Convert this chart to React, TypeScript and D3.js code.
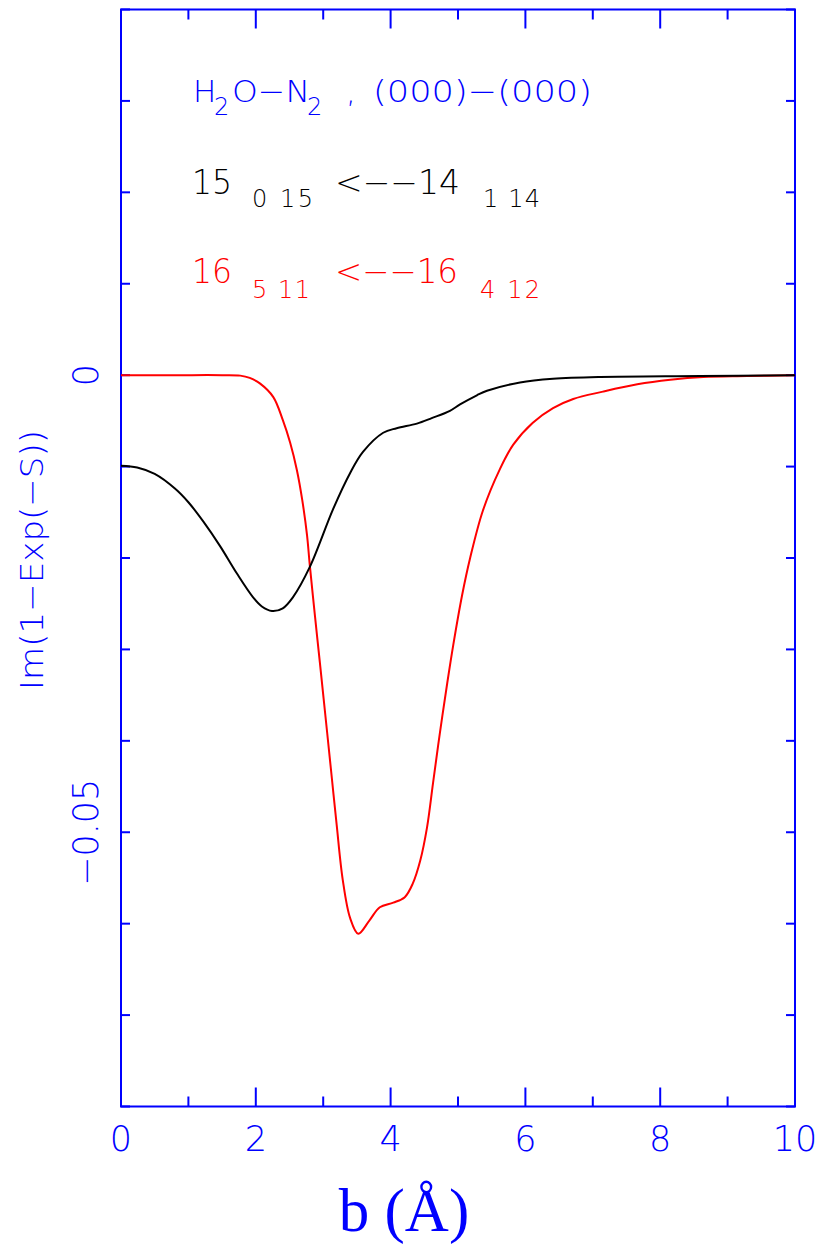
import React from "react";
import * as d3 from "d3";

// b (Å)
const blackB = [0, 0.24, 0.5, 0.8, 1.0, 1.22, 1.47, 1.72, 1.96, 2.09, 2.24, 2.4, 2.55, 2.8, 3.15, 3.4, 3.59, 3.89, 4.09, 4.39, 4.61, 4.88, 5.03, 5.28, 5.43, 5.92, 6.41, 7.11, 8.59, 10];
const blackV = [-0.0099, -0.0101, -0.0108, -0.0124, -0.0139, -0.016, -0.0187, -0.0217, -0.0243, -0.0253, -0.0258, -0.0255, -0.0243, -0.021, -0.0146, -0.0107, -0.0084, -0.0063, -0.0058, -0.0053, -0.0047, -0.0039, -0.0032, -0.0022, -0.0017, -0.0008, -0.0004, -0.0002, -0.0001, 0];

const redB = [0, 0.8, 1.5, 1.77, 1.91, 2.06, 2.26, 2.4, 2.51, 2.61, 2.69, 2.76, 2.8, 2.88, 2.95, 3.06, 3.13, 3.2, 3.29, 3.4, 3.52, 3.69, 3.84, 4.04, 4.21, 4.33, 4.44, 4.54, 4.63, 4.73, 4.84, 4.93, 5.06, 5.18, 5.37, 5.62, 5.82, 6.11, 6.41, 6.71, 7.15, 7.66, 8.15, 8.64, 9.29, 10];
const redV = [0, 0, 0, -0.00005, -0.0003, -0.0009, -0.0024, -0.0049, -0.0074, -0.0104, -0.0137, -0.0175, -0.0207, -0.0265, -0.0314, -0.0392, -0.0442, -0.0492, -0.0552, -0.0594, -0.0611, -0.0596, -0.0582, -0.0577, -0.0571, -0.0556, -0.0531, -0.0495, -0.0446, -0.0392, -0.0337, -0.0295, -0.0241, -0.02, -0.0148, -0.0103, -0.0076, -0.0052, -0.0036, -0.0026, -0.0018, -0.001, -0.0005, -0.0002, -0.0001, 0];

const xMajorTicks = [0, 2, 4, 6, 8, 10];
const xMinorTicks = [1, 3, 5, 7, 9];
const yTicks = [0.04, 0.03, 0.02, 0.01, 0, -0.01, -0.02, -0.03, -0.04, -0.05, -0.06, -0.07, -0.08];
const yLabelTicks = [0, -0.05];
const yLabelText = ["0", "\u22120.05"];

const BLUE = "#0000ff";
const FONT = "'DejaVu Sans', 'Liberation Sans', sans-serif";
const FW = 200;

export default function App() {
  const L = 121, R = 795, T = 9.5, B = 1106.5;
  const x = d3.scaleLinear().domain([0, 10]).range([L, R]);
  const y = d3.scaleLinear().domain([-0.08, 0.04]).range([B, T]);

  const line = d3
    .line<[number, number]>()
    .x((d) => x(d[0]))
    .y((d) => y(d[1]))
    .curve(d3.curveCatmullRom.alpha(0.5));

  const blackPts = blackB.map((b, i) => [b, blackV[i]] as [number, number]);
  const redPts = redB.map((b, i) => [b, redV[i]] as [number, number]);

  return (
    <svg
      width={819}
      height={1248}
      style={{ position: "absolute", left: 0, top: 0, background: "#fff" }}
    >
      <rect x={L} y={T} width={R - L} height={B - T} fill="none" stroke={BLUE} strokeWidth={2} />
      {xMajorTicks.map((t) => (
        <g key={"xm" + t}>
          <line x1={x(t)} x2={x(t)} y1={B} y2={B - 19} stroke={BLUE} strokeWidth={2} />
          <line x1={x(t)} x2={x(t)} y1={T} y2={T + 19} stroke={BLUE} strokeWidth={2} />
          <text x={x(t)} y={1151} textAnchor="middle" fontFamily={FONT} fontWeight={FW} fontSize={35} fill={BLUE}>
            {t}
          </text>
        </g>
      ))}
      {xMinorTicks.map((t) => (
        <g key={"xn" + t}>
          <line x1={x(t)} x2={x(t)} y1={B} y2={B - 10} stroke={BLUE} strokeWidth={2} />
          <line x1={x(t)} x2={x(t)} y1={T} y2={T + 10} stroke={BLUE} strokeWidth={2} />
        </g>
      ))}
      {yTicks.map((t) => (
        <g key={"y" + t}>
          <line x1={L} x2={L + 9} y1={y(t)} y2={y(t)} stroke={BLUE} strokeWidth={2} />
          <line x1={R} x2={R - 9} y1={y(t)} y2={y(t)} stroke={BLUE} strokeWidth={2} />
        </g>
      ))}
      {yLabelTicks.map((t, i) => (
        <text
          key={"yl" + t}
          transform={`translate(98,${y(t)}) rotate(-90)`}
          textAnchor="middle"
          fontFamily={FONT}
          fontWeight={FW}
          fontSize={35}
          fill={BLUE}
        >
          {yLabelText[i]}
        </text>
      ))}
      <text
        transform="translate(43,560) rotate(-90)"
        textAnchor="middle"
        fontFamily={FONT}
        fontWeight={FW}
        fontSize={32}
        fill={BLUE}
        textLength={260}
        lengthAdjust="spacingAndGlyphs"
      >
        Im(1{"\u2212"}Exp({"\u2212"}S))
      </text>
      <text
        x={404}
        y={1231}
        textAnchor="middle"
        fontFamily="'Liberation Serif', 'Times New Roman', serif"
        fontSize={61}
        fill={BLUE}
      >
        b (Å)
      </text>

      <path d={line(redPts) || ""} fill="none" stroke="#ff0000" strokeWidth={2} />
      <path d={line(blackPts) || ""} fill="none" stroke="#000" strokeWidth={2} />

      <g fontFamily={FONT} fontWeight={FW} fill={BLUE}>
        <text x={193} y={102} fontSize={31}>H</text>
        <text x={214} y={115} fontSize={24}>2</text>
        <text x={232} y={102} fontSize={31} textLength={78} lengthAdjust="spacingAndGlyphs">O{"\u2212"}N</text>
        <text x={307} y={115} fontSize={24}>2</text>
        <text x={346} y={102} fontSize={31}>,</text>
        <text x={373} y={102} fontSize={31} textLength={219} lengthAdjust="spacingAndGlyphs">(000){"\u2212"}(000)</text>
      </g>
      <g fontFamily={FONT} fontWeight={FW} fill="#000">
        <text x={192} y={194} fontSize={33} textLength={40} lengthAdjust="spacingAndGlyphs">15</text>
        <text x={252} y={207} fontSize={24} textLength={61} lengthAdjust="spacing">0 15</text>
        <text x={335} y={194} fontSize={33} textLength={125} lengthAdjust="spacingAndGlyphs">{"<\u2212\u2212"}14</text>
        <text x={483} y={207} fontSize={24} textLength={57} lengthAdjust="spacing">1 14</text>
      </g>
      <g fontFamily={FONT} fontWeight={FW} fill="#ff0000">
        <text x={192} y={283} fontSize={33} textLength={40} lengthAdjust="spacingAndGlyphs">16</text>
        <text x={252} y={298} fontSize={24} textLength={58} lengthAdjust="spacing">5 11</text>
        <text x={335} y={283} fontSize={33} textLength={123} lengthAdjust="spacingAndGlyphs">{"<\u2212\u2212"}16</text>
        <text x={480} y={298} fontSize={24} textLength={60} lengthAdjust="spacing">4 12</text>
      </g>
    </svg>
  );
}
